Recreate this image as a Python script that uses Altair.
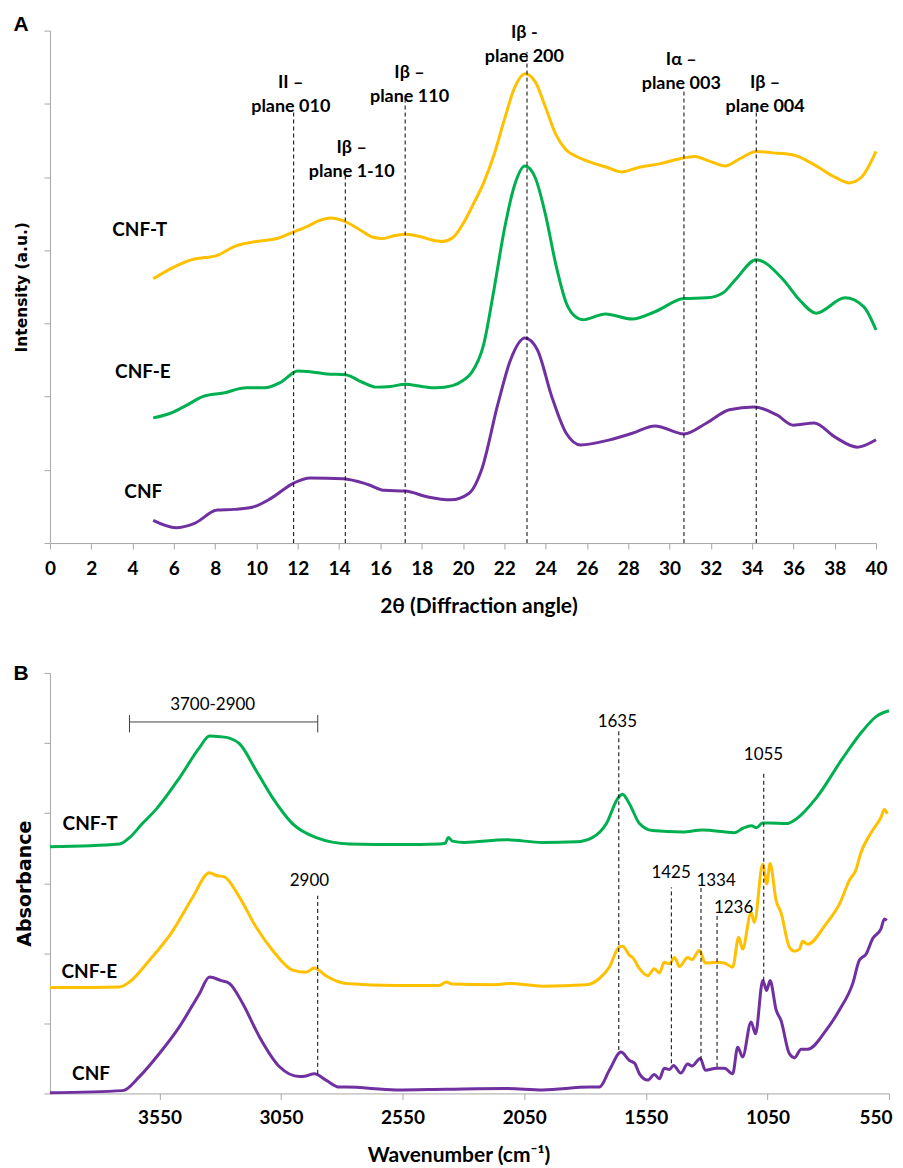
import altair as alt
import pandas as pd

FONT = "Lato"
TITLE_FONT = "DejaVu Sans"
AXIS_GREY = "#a6a6a6"
YELLOW = "#FFC000"
GREEN = "#00B050"
PURPLE = "#7030A0"

# ---------------- Panel A : XRD ----------------
xrd_t_angle = [5.0, 6.0, 7.0, 7.5, 8.0, 9.0, 10.0, 11.0, 11.8, 12.5, 13.0, 13.6, 14.3, 15.0, 15.6,
               16.1, 16.7, 17.2, 18.0, 18.5, 19.0, 19.5, 20.0, 20.5, 21.0, 21.5, 22.0, 22.5, 23.0,
               23.5, 24.0, 24.5, 25.0, 25.5, 26.0, 27.0, 27.7, 28.5, 29.5, 30.5, 31.2, 32.0, 32.7,
               33.4, 34.2, 35.0, 36.0, 37.0, 38.0, 38.7, 39.3, 40.0]
xrd_t = [3.61, 3.77, 3.88, 3.90, 3.92, 4.06, 4.12, 4.16, 4.25, 4.33, 4.40, 4.44, 4.39, 4.28, 4.18,
         4.16, 4.20, 4.22, 4.18, 4.14, 4.12, 4.17, 4.36, 4.63, 4.92, 5.30, 5.78, 6.22, 6.41,
         6.30, 5.95, 5.58, 5.37, 5.28, 5.22, 5.13, 5.07, 5.13, 5.18, 5.25, 5.28, 5.21, 5.15,
         5.25, 5.35, 5.33, 5.30, 5.17, 5.00, 4.92, 5.00, 5.35]

xrd_e_angle = [5.0, 5.9, 6.6, 7.4, 8.4, 9.5, 10.4, 11.2, 12.0, 12.6, 13.4, 14.3, 15.1, 15.8, 16.5,
               17.2, 18.0, 18.7, 19.5, 20.0, 20.4, 21.0, 21.5, 22.0, 22.5, 23.0, 23.5, 24.0, 24.5,
               25.0, 25.5, 25.8, 26.9, 28.2, 29.3, 30.7, 31.8, 32.6, 33.2, 34.2, 35.5, 36.3, 37.1,
               38.5, 39.4, 40.0]
xrd_e = [1.71, 1.78, 1.88, 2.00, 2.05, 2.12, 2.12, 2.20, 2.35, 2.34, 2.31, 2.30, 2.20, 2.13, 2.14,
         2.17, 2.14, 2.12, 2.15, 2.22, 2.32, 2.71, 3.46, 4.28, 4.89, 5.15, 4.99, 4.48, 3.80,
         3.28, 3.08, 3.05, 3.13, 3.06, 3.16, 3.34, 3.35, 3.42, 3.60, 3.87, 3.60, 3.32, 3.14,
         3.35, 3.23, 2.91]

xrd_c_angle = [5.0, 6.1, 7.0, 8.1, 8.9, 9.8, 10.7, 11.8, 12.6, 14.2, 15.4, 16.2, 17.2, 18.3, 19.4,
               20.3, 20.9, 21.7, 22.3, 23.0, 23.6, 24.3, 25.0, 25.7, 27.1, 28.2, 29.3, 30.7, 31.8,
               32.9, 34.1, 35.2, 36.0, 37.0, 38.0, 39.1, 40.0]
xrd_c = [0.31, 0.21, 0.27, 0.45, 0.46, 0.49, 0.61, 0.82, 0.89, 0.88, 0.80, 0.72, 0.71, 0.63, 0.59,
         0.68, 1.00, 1.91, 2.50, 2.80, 2.64, 2.00, 1.50, 1.34, 1.41, 1.50, 1.60, 1.49, 1.64,
         1.82, 1.86, 1.75, 1.61, 1.64, 1.45, 1.31, 1.41]

xrd_line_pos = [11.8, 14.3, 17.2, 23.1, 30.7, 34.2]
xrd_line_top = [5.91, 5.07, 6.10, 6.71, 6.21, 5.96]

xrd_label_text = ["II –\nplane 010", "Iβ –\nplane 1-10", "Iβ –\nplane 110",
                  "Iβ  -\nplane 200", "Iα –\nplane 003", "Iβ –\nplane 004"]
xrd_label_x = [11.66, 14.61, 17.41, 22.97, 30.57, 34.63]
xrd_label_y = [6.29, 5.40, 6.42, 6.97, 6.60, 6.29]

xrd_sample_names = ["CNF-T", "CNF-E", "CNF"]
xrd_sample_x = [4.35, 4.50, 4.52]
xrd_sample_y = [4.28, 2.33, 0.70]

# ---------------- Panel B : FTIR ----------------
ftir_t_wn = [4000, 3714, 3673, 3620, 3562, 3468, 3386, 3344, 3300, 3262, 3221, 3151, 3085, 3003,
             2905, 2769, 2563, 2400, 2375, 2362, 2345, 2296, 2123, 1975, 1835, 1770, 1712, 1667,
             1646, 1617, 1576, 1523, 1399, 1317, 1185, 1152, 1115, 1095, 1070, 1042, 972, 930,
             848, 741, 659, 602, 550]
ftir_t = [3.52, 3.56, 3.65, 3.85, 4.06, 4.50, 4.93, 5.10, 5.09, 5.07, 4.99, 4.60, 4.22, 3.85,
          3.65, 3.56, 3.55, 3.56, 3.57, 3.65, 3.60, 3.58, 3.62, 3.58, 3.59, 3.65, 3.85, 4.20,
          4.27, 4.13, 3.85, 3.75, 3.73, 3.76, 3.72, 3.78, 3.82, 3.79, 3.86, 3.86, 3.85, 3.92,
          4.22, 4.78, 5.17, 5.38, 5.46]

ftir_e_wn = [4000, 3714, 3673, 3591, 3495, 3413, 3344, 3317, 3283, 3221, 3152, 3084, 3002, 2947,
             2913, 2865, 2810, 2782, 2577, 2399, 2371, 2344, 2166, 2111, 1974, 1795, 1741, 1700,
             1659, 1645, 1617, 1604, 1576, 1542, 1515, 1494, 1474, 1453, 1432, 1412, 1378, 1360,
             1330, 1305, 1261, 1227, 1193, 1168, 1152, 1117, 1104, 1069, 1053, 1039, 1014, 994,
             960, 939, 918, 905, 884, 809, 754, 713, 685, 667, 624, 583, 569, 557]
ftir_e = [1.51, 1.52, 1.59, 1.90, 2.32, 2.80, 3.15, 3.11, 3.09, 2.80, 2.37, 2.04, 1.76, 1.73,
          1.79, 1.68, 1.59, 1.57, 1.54, 1.54, 1.59, 1.56, 1.55, 1.57, 1.53, 1.55, 1.64, 1.80,
          2.09, 2.10, 1.97, 1.94, 1.78, 1.68, 1.78, 1.72, 1.87, 1.85, 1.94, 1.81, 1.94, 1.91,
          2.04, 1.86, 1.87, 1.86, 1.80, 2.23, 2.06, 2.58, 2.44, 3.27, 2.99, 3.28, 2.75, 2.58,
          2.09, 2.03, 2.06, 2.17, 2.13, 2.42, 2.70, 3.04, 3.20, 3.42, 3.72, 3.94, 4.05, 3.99]

ftir_c_wn = [4000, 3701, 3632, 3550, 3468, 3386, 3344, 3296, 3262, 3207, 3139, 3056, 2974, 2947,
             2913, 2865, 2810, 2782, 2577, 2371, 2124, 1974, 1782, 1741, 1700, 1652, 1617, 1596,
             1576, 1542, 1515, 1494, 1474, 1453, 1436, 1406, 1378, 1360, 1326, 1305, 1261, 1227,
             1193, 1172, 1152, 1117, 1099, 1069, 1053, 1039, 1014, 994, 960, 939, 911, 884, 809,
             754, 699, 672, 644, 617, 583, 569, 559]
ftir_c = [0.01, 0.04, 0.24, 0.57, 0.95, 1.42, 1.66, 1.61, 1.57, 1.28, 0.81, 0.38, 0.24, 0.25,
          0.28, 0.19, 0.09, 0.09, 0.05, 0.06, 0.07, 0.05, 0.09, 0.09, 0.33, 0.59, 0.47, 0.43,
          0.28, 0.19, 0.27, 0.21, 0.36, 0.34, 0.40, 0.29, 0.42, 0.39, 0.50, 0.33, 0.36, 0.36,
          0.28, 0.66, 0.52, 1.02, 0.85, 1.61, 1.47, 1.61, 1.19, 1.04, 0.57, 0.51, 0.63, 0.63,
          0.90, 1.19, 1.57, 1.90, 1.99, 2.21, 2.35, 2.49, 2.47]

ftir_line_pos = [2899, 1661, 1445, 1323, 1257, 1065]
ftir_line_bottom = [0.28, 0.62, 0.43, 0.48, 0.38, 1.61]
ftir_line_top = [2.82, 5.18, 2.94, 2.94, 2.56, 4.60]

ftir_label_text = ["2900", "1635", "1055", "1425", "1334", "1236", "3700-2900"]
ftir_label_x = [2933, 1667, 1066, 1446, 1261, 1189, 3331]
ftir_label_y = [3.03, 5.30, 4.83, 3.15, 3.03, 2.65, 5.54]

ftir_range = [3673, 2899]
ftir_range_y = 5.30
ftir_cap_y = [5.15, 5.40]

ftir_sample_names = ["CNF-T", "CNF-E", "CNF"]
ftir_sample_x = [3835, 3838, 3831]
ftir_sample_y = [3.85, 1.73, 0.27]

# ---------------- helpers ----------------
def axis_x(values, title, title_x, label_pad, title_pad, flush):
    kw = dict(values=values, title=title, grid=False, labelOverlap=False, format="d",
              labelFont=FONT, labelFontSize=19, labelFontWeight="bold", labelColor="black",
              labelPadding=label_pad, tickSize=6, tickColor=AXIS_GREY, domainColor=AXIS_GREY,
              titleFont=FONT, titleFontSize=21, titleFontWeight="bold", titleColor="black",
              titlePadding=title_pad, titleX=title_x)
    if flush:
        kw.update(labelFlush=True, labelFlushOffset=3)
    else:
        kw.update(labelFlush=False)
    return alt.Axis(**kw)


def axis_y(values, title, size, pad):
    return alt.Axis(values=values, labels=False, grid=False, tickSize=6, tickColor=AXIS_GREY,
                    domainColor=AXIS_GREY, title=title, titleFont=TITLE_FONT, titleFontSize=size,
                    titleFontWeight="bold", titleColor="black", titlePadding=pad)


def panel(xscale, yscale, xaxis, yaxis, curves, rules, labels, label_style, samples, letter,
          extra=None, width=800, height=400):
    X = lambda f="x": alt.X(f"{f}:Q", scale=xscale, axis=xaxis)
    Y = lambda f="y": alt.Y(f"{f}:Q", scale=yscale, axis=yaxis)
    layers = []
    for xs, ys, col in curves:
        df = pd.DataFrame({"x": xs, "y": ys})
        layers.append(alt.Chart(df).mark_line(color=col, strokeWidth=3, interpolate="monotone")
                      .encode(x=X(), y=Y(), order="x:Q"))
    rx, rb, rt = rules
    layers.append(alt.Chart(pd.DataFrame({"x": rx, "y": rb, "y2": rt}))
                  .mark_rule(color="black", strokeDash=[4, 3], strokeWidth=1)
                  .encode(x=X(), y=Y(), y2="y2:Q"))
    if extra is not None:
        layers.extend(extra(X, Y))
    lt, lx, ly = labels
    layers.append(alt.Chart(pd.DataFrame({"x": lx, "y": ly, "t": lt}))
                  .mark_text(align="center", baseline="middle", color="black", font=FONT,
                             lineBreak="\n", lineHeight=24, **label_style)
                  .encode(x=X(), y=Y(), text="t:N"))
    sn, sx, sy = samples
    layers.append(alt.Chart(pd.DataFrame({"x": sx, "y": sy, "t": sn}))
                  .mark_text(align="center", baseline="middle", color="black", font=FONT,
                             fontSize=19, fontWeight="bold")
                  .encode(x=X(), y=Y(), text="t:N"))
    ltext, lxp, lyp = letter
    layers.append(alt.Chart(pd.DataFrame({"t": [ltext]}))
                  .mark_text(align="center", baseline="middle", color="black",
                             font="Liberation Sans", fontSize=21, fontWeight="bold")
                  .encode(x=alt.value(lxp), y=alt.value(lyp), text="t:N"))
    return alt.layer(*layers).properties(width=width, height=height)


# ---------------- Panel A ----------------
scaleA_x = alt.Scale(domain=[0, 40], nice=False, zero=False)
scaleA_y = alt.Scale(domain=[0, 7], nice=False)
panelA = panel(
    scaleA_x, scaleA_y,
    axis_x(list(range(0, 41, 2)), "2θ (Diffraction angle)", 429, 10, 18, False),
    axis_y(list(range(0, 8)), "Intensity (a.u.)", 15.5, 14),
    [(xrd_t_angle, xrd_t, YELLOW), (xrd_e_angle, xrd_e, GREEN), (xrd_c_angle, xrd_c, PURPLE)],
    (xrd_line_pos, [0] * len(xrd_line_pos), xrd_line_top),
    (xrd_label_text, xrd_label_x, xrd_label_y),
    {"fontSize": 18, "fontWeight": "bold"},
    (xrd_sample_names, xrd_sample_x, xrd_sample_y),
    ("A", -29, -6),
    width=827, height=513,
)

# ---------------- Panel B ----------------
scaleB_x = alt.Scale(domain=[550, 4000], reverse=True, nice=False, zero=False)
scaleB_y = alt.Scale(domain=[0, 6], nice=False)


def bracket(X, Y):
    hdf = pd.DataFrame({"x": [ftir_range[0]], "x2": [ftir_range[1]], "y": [ftir_range_y]})
    vdf = pd.DataFrame({"x": ftir_range, "y": [ftir_cap_y[0]] * 2, "y2": [ftir_cap_y[1]] * 2})
    return [
        alt.Chart(hdf).mark_rule(color="#404040", strokeWidth=1).encode(x=X(), x2="x2:Q", y=Y()),
        alt.Chart(vdf).mark_rule(color="#404040", strokeWidth=1).encode(x=X(), y=Y(), y2="y2:Q"),
    ]


panelB = panel(
    scaleB_x, scaleB_y,
    axis_x(list(range(550, 4000, 500)), "Wavenumber (cm⁻¹)", 409, 9, 17, True),
    axis_y(list(range(0, 7)), "Absorbance", 19, 9),
    [(ftir_t_wn, ftir_t, GREEN), (ftir_e_wn, ftir_e, YELLOW), (ftir_c_wn, ftir_c, PURPLE)],
    (ftir_line_pos, ftir_line_bottom, ftir_line_top),
    (ftir_label_text, ftir_label_x, ftir_label_y),
    {"fontSize": 17, "fontWeight": "normal"},
    (ftir_sample_names, ftir_sample_x, ftir_sample_y),
    ("B", -29, 1),
    extra=bracket,
    width=840, height=421,
)

chart = (
    alt.vconcat(panelA, panelB, spacing=46)
    .properties(padding={"left": 5, "top": 5, "right": 0, "bottom": 0})
    .configure_view(stroke=None)
)

chart.save("out.html", embed_options={"renderer": "svg", "actions": False})
